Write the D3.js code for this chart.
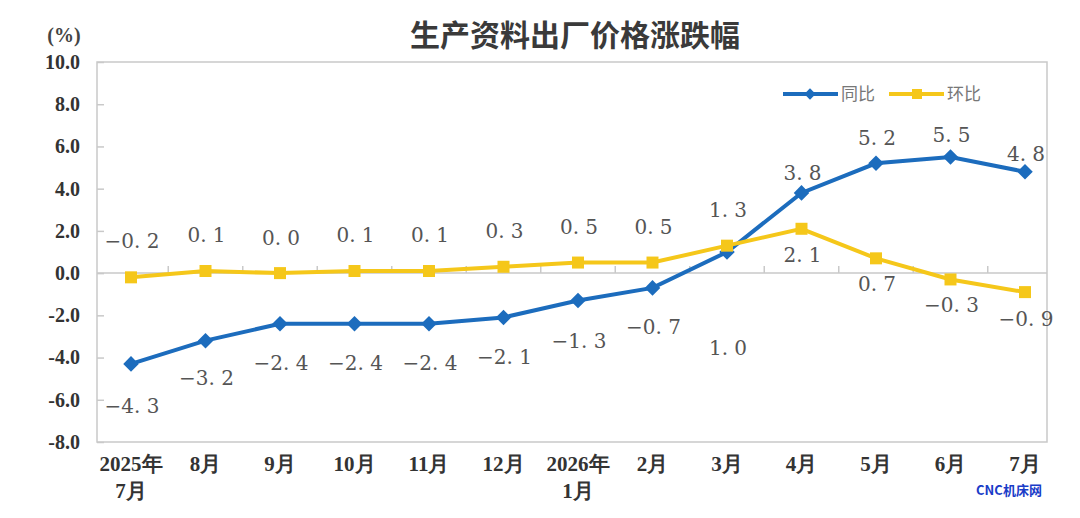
<!DOCTYPE html>
<html>
<head>
<meta charset="utf-8">
<script src="https://cdn.jsdelivr.net/npm/d3@7"></script>
<style>
  body { margin: 0; background: #fff; }
  svg { display: block; }
</style>
</head>
<body>
<script>
// months along the x axis (first line / second line)
var months = ["2025年", "8月", "9月", "10月", "11月", "12月", "2026年", "2月", "3月", "4月", "5月", "6月", "7月"];
var months2 = ["7月", "", "", "", "", "", "1月", "", "", "", "", "", ""];
// year on year
var yoy = [-4.3, -3.2, -2.4, -2.4, -2.4, -2.1, -1.3, -0.7, 1.0, 3.8, 5.2, 5.5, 4.8];
// month on month
var mom = [-0.2, 0.1, 0.0, 0.1, 0.1, 0.3, 0.5, 0.5, 1.3, 2.1, 0.7, -0.3, -0.9];
var yTicks = [10, 8, 6, 4, 2, 0, -2, -4, -6, -8];

// label placement (px from the point to the middle of the label), hand set like the original
var yoyOff = [42, 37, 39, 39, 39, 40, 40, 39, 96, -20, -25, -22, -18];
var momOff = [-36, -36, -35, -36, -36, -36, -36, -36, -36, 26, 26, 26, 27];

var blue = "#1c6cbd", yellow = "#f5c71a";

var svg = d3.select("body").append("svg").attr("width", 1080).attr("height", 518);

var x = d3.scalePoint().domain(d3.range(months.length)).range([131, 1025]);
var y = d3.scaleLinear().domain([-8, 10]).range([442, 62]);

// plot frame
svg.append("rect").attr("x", 97).attr("y", 62).attr("width", 950).attr("height", 380)
  .attr("fill", "none").attr("stroke", "#c9c9c9").attr("stroke-width", 1.5);

// zero line with small ticks between months
svg.append("line").attr("x1", 97).attr("x2", 1047).attr("y1", y(0)).attr("y2", y(0))
  .attr("stroke", "#c9c9c9").attr("stroke-width", 1.5);
var step = x.step();
svg.selectAll(".zt").data(d3.range(months.length - 1)).enter().append("line")
  .attr("x1", function(d) { return x(d) + step / 2; })
  .attr("x2", function(d) { return x(d) + step / 2; })
  .attr("y1", y(0)).attr("y2", y(0) - 7)
  .attr("stroke", "#c9c9c9").attr("stroke-width", 1.5);

// y axis
var yAxis = d3.axisLeft(y).tickValues(yTicks).tickSize(-7).tickPadding(17)
  .tickFormat(function(d) { return d3.format(".1f")(d).replace("−", "-"); });
var ga = svg.append("g").attr("transform", "translate(97,0)").call(yAxis);
ga.select(".domain").remove();
ga.selectAll("line").attr("stroke", "#c9c9c9").attr("stroke-width", 1.5);
ga.selectAll("text").attr("font-family", "'Liberation Serif', 'DejaVu Serif', serif")
  .attr("font-weight", "bold").attr("font-size", 20).attr("fill", "#333");

// x labels
var xl = svg.append("g");
xl.selectAll(".m1").data(months).enter().append("text")
  .attr("x", function(d, i) { return x(i); }).attr("y", 471)
  .attr("text-anchor", "middle").attr("font-family", "'Liberation Serif', serif")
  .attr("font-weight", "bold").attr("font-size", 21).attr("fill", "#333")
  .text(function(d) { return d; });
xl.selectAll(".m2").data(months2).enter().append("text")
  .attr("x", function(d, i) { return x(i); }).attr("y", 498)
  .attr("text-anchor", "middle").attr("font-family", "'Liberation Serif', serif")
  .attr("font-weight", "bold").attr("font-size", 21).attr("fill", "#333")
  .text(function(d) { return d; });

var line = d3.line().x(function(d, i) { return x(i); }).y(function(d) { return y(d); });

function fmt(v) {
  return v.toFixed(1).replace("-", "−").replace(".", ". ");
}

// year on year series
svg.append("path").datum(yoy).attr("d", line).attr("fill", "none")
  .attr("stroke", blue).attr("stroke-width", 4);
svg.selectAll(".dm").data(yoy).enter().append("rect")
  .attr("x", -5.5).attr("y", -5.5).attr("width", 11).attr("height", 11)
  .attr("transform", function(d, i) { return "translate(" + x(i) + "," + y(d) + ") rotate(45)"; })
  .attr("fill", blue);

// month on month series
svg.append("path").datum(mom).attr("d", line).attr("fill", "none")
  .attr("stroke", yellow).attr("stroke-width", 4);
svg.selectAll(".sq").data(mom).enter().append("rect")
  .attr("x", function(d, i) { return x(i) - 6; }).attr("y", function(d) { return y(d) - 6; })
  .attr("width", 12).attr("height", 12).attr("fill", yellow);

// labels
function labels(data, off, cls) {
  svg.selectAll("." + cls).data(data).enter().append("text")
    .attr("x", function(d, i) { return x(i) + 1; })
    .attr("y", function(d, i) { return y(d) + off[i] + 7; })
    .attr("text-anchor", "middle").attr("font-family", "'DejaVu Serif', serif")
    .attr("font-size", 20).attr("fill", "#555")
    .text(function(d) { return fmt(d); });
}
labels(yoy, yoyOff, "ly");
labels(mom, momOff, "lm");

// legend
var lg = svg.append("g");
lg.append("line").attr("x1", 783).attr("x2", 838).attr("y1", 94).attr("y2", 94)
  .attr("stroke", blue).attr("stroke-width", 4);
lg.append("rect").attr("x", -4).attr("y", -4).attr("width", 8).attr("height", 8)
  .attr("transform", "translate(810,94) rotate(45)").attr("fill", blue);
lg.append("text").attr("x", 841).attr("y", 100).attr("font-family", "'Noto Sans CJK SC', sans-serif")
  .attr("font-size", 17).attr("fill", "#777").text("同比");
lg.append("line").attr("x1", 889).attr("x2", 944).attr("y1", 94).attr("y2", 94)
  .attr("stroke", yellow).attr("stroke-width", 4);
lg.append("rect").attr("x", 912).attr("y", 89).attr("width", 10).attr("height", 10).attr("fill", yellow);
lg.append("text").attr("x", 947).attr("y", 100).attr("font-family", "'Noto Sans CJK SC', sans-serif")
  .attr("font-size", 17).attr("fill", "#777").text("环比");

// title and unit
svg.append("text").attr("x", 575).attr("y", 46).attr("text-anchor", "middle")
  .attr("font-family", "'Noto Sans CJK SC', sans-serif").attr("font-weight", "bold")
  .attr("font-size", 30).attr("fill", "#3a3a3a").text("生产资料出厂价格涨跌幅");
svg.append("text").attr("x", 64).attr("y", 42).attr("text-anchor", "middle")
  .attr("font-family", "'Liberation Serif', serif").attr("font-weight", "bold")
  .attr("font-size", 20).attr("fill", "#444").text("(%)");

// watermark
svg.append("text").attr("x", 1009).attr("y", 495).attr("text-anchor", "middle")
  .attr("font-family", "'Noto Sans CJK SC', sans-serif").attr("font-weight", "bold")
  .attr("font-size", 13).attr("fill", "#1a3cc8").text("CNC机床网");
</script>
</body>
</html>
